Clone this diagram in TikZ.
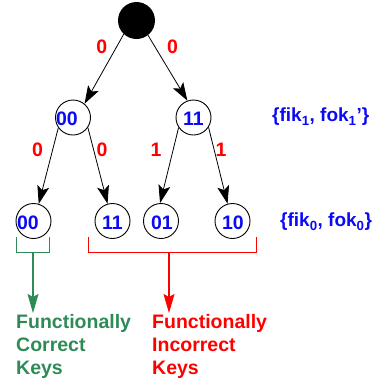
\documentclass[tikz,border=0pt]{standalone}
\usepackage{fontspec}
\setmainfont{Liberation Sans}
\usetikzlibrary{arrows.meta}
\definecolor{kgreen}{RGB}{46,139,87}
\definecolor{kblue}{RGB}{10,10,245}
\definecolor{kred}{RGB}{255,0,0}
\begin{document}
\begin{tikzpicture}[x=1pt,y=-1pt,
  keynode/.style={circle,draw=black,line width=0.9pt,minimum size=35pt,inner sep=0pt},
  keytxt/.style={text=kblue,font=\fontsize{19.5}{19.5}\selectfont\bfseries,inner sep=0pt},
  edgelab/.style={text=kred,font=\fontsize{19.5}{19.5}\selectfont\bfseries,inner sep=0pt},
  setlab/.style={text=kblue,font=\fontsize{19}{19}\selectfont\bfseries,inner sep=0pt},
  treearrow/.style={line width=0.8pt,-{Stealth[length=18pt,width=12pt,inset=4pt]}},
  brk/.style={line width=1.2pt},
  brkarrow/.style={line width=1.2pt,-{Stealth[length=19pt,width=11pt,inset=3pt]}},
  outtxt/.style={font=\fontsize{19.5}{23}\selectfont\bfseries,align=left,inner sep=0pt,anchor=north west}
]
\useasboundingbox (0,0) rectangle (380,392);
% nodes
\node[circle,fill=black,minimum size=37pt,inner sep=0pt] (root) at (136.5,20.5) {};
\node[keynode] (m0) at (73,117.5) {};
\node[keynode] (m1) at (193.5,117.5) {};
\node[keynode] (l0) at (33.5,221) {};
\node[keynode] (l1) at (112.5,221) {};
\node[keynode] (l2) at (161,221) {};
\node[keynode] (l3) at (232.5,221) {};
% node texts
\node[keytxt] (tm0) at (67,119) {00};
\node[keytxt] (tm1) at (193.5,119) {11};
\node[keytxt] (tl0) at (28,222.5) {00};
\node[keytxt] (tl1) at (112.5,222.5) {11};
\node[keytxt] (tl2) at (162,222.5) {01};
\node[keytxt] (tl3) at (233,222.5) {10};
% arrows
\draw[treearrow] (root.227) -- (m0.50);
\draw[treearrow] (root.308) -- (m1.110);
\draw[treearrow] (m0.215) -- (l0.73);
\draw[treearrow] (m0.326) -- (l1.106);
\draw[treearrow] (m1.214) -- (l2.93);
\draw[treearrow] (m1.327) -- (l3.106);
% edge labels
\node[edgelab] (e1) at (101.7,46.3) {0};
\node[edgelab] (e2) at (172.5,46.3) {0};
\node[edgelab] (e3) at (37.5,150) {0};
\node[edgelab] (e4) at (102,150) {0};
\node[edgelab] (e5) at (156,150) {1};
\node[edgelab] (e6) at (221,150) {1};
% set labels
\node[setlab,anchor=west] (s1) at (272,117) {\{fik$_{\mathbf{1}}$, fok$_{\mathbf{1}}$'\}};
\node[setlab,anchor=west] (s0) at (280,222) {\{fik$_{\mathbf{0}}$, fok$_{\mathbf{0}}$\}};
% brackets
\draw[brk,kgreen] (16.7,237) -- (16.7,252.7) -- (49.3,252.7) -- (49.3,237);
\draw[brk,kred] (88.3,237) -- (88.3,252.7) -- (256.7,252.7) -- (256.7,237);
\coordinate (gb) at (33,252.7);
\coordinate (rb) at (169,252.7);
\node[outtxt,text=kgreen] (gt) at (16,314) {Functionally\\Correct\\Keys};
\node[outtxt,text=kred] (rt) at (152,314) {Functionally\\Incorrect\\Keys};
\draw[brkarrow,kgreen] (gb) -- (33,313);
\draw[brkarrow,kred] (rb) -- (169,313);
\end{tikzpicture}
\end{document}
